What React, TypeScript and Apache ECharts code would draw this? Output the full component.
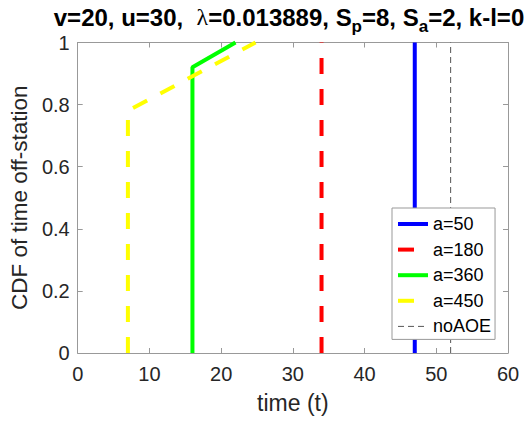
import React, { useEffect, useRef } from "react";
import * as echarts from "echarts";

const FONT = "'Liberation Sans', Arial, Helvetica, sans-serif";

const xTicks = { min: 0, max: 60, interval: 10 };
const yTicks = { min: 0, max: 1, interval: 0.2 };

const seriesNames = ["a=50", "a=180", "a=360", "a=450", "noAOE"];
const seriesColors = ["#0000ff", "#ff0000", "#00ff00", "#ffff00", "#555555"];

// [time, CDF] points for each series
const a50: [number, number][] = [[47, 0], [47, 1]];
const a180: [number, number][] = [[34, 0], [34, 1]];
const a360: [number, number][] = [[16, 0], [16, 0.92], [22, 1]];
const a450: [number, number][] = [[7, 0], [7, 0.78], [24.8, 1]];
const noAOE: [number, number][] = [[52, 0], [52, 1]];

const seriesData = [a50, a180, a360, a450, noAOE];
const seriesWidths = [4, 4, 4, 4, 1];
const seriesDash: (string | number[])[] = ["solid", [16, 15], "solid", [16, 15], [6, 4]];

const titleText =
  "{b|v=20, u=30,  }{l|λ}{b|=0.013889, S}{s|p}{b|=8, S}{s|a}{b|=2, k-l=0}";

export default function App() {
  const ref = useRef<HTMLDivElement>(null);

  useEffect(() => {
    if (!ref.current) return;
    const chart = echarts.init(ref.current, null, { renderer: "svg" });

    const axisLineStyle = { color: "#999999", width: 1 };
    const labelStyle = { color: "#262626", fontSize: 20, fontFamily: FONT };

    const baseX = {
      type: "value" as const,
      min: xTicks.min,
      max: xTicks.max,
      interval: xTicks.interval,
      splitLine: { show: false },
      axisLine: { show: true, onZero: false, lineStyle: axisLineStyle },
      axisTick: { show: true, inside: true, length: 5, lineStyle: axisLineStyle },
    };
    const baseY = {
      type: "value" as const,
      min: yTicks.min,
      max: yTicks.max,
      interval: yTicks.interval,
      splitLine: { show: false },
      axisLine: { show: true, onZero: false, lineStyle: axisLineStyle },
      axisTick: { show: true, inside: true, length: 5, lineStyle: axisLineStyle },
    };

    chart.setOption({
      animation: false,
      backgroundColor: "#ffffff",
      title: {
        text: titleText,
        left: 289,
        top: 5,
        textAlign: "center",
        padding: 0,
        textStyle: {
          rich: {
            b: {
              fontSize: 24,
              fontWeight: "bold",
              fontFamily: FONT,
              color: "#000000",
              lineHeight: 26,
              verticalAlign: "top",
            },
            l: {
              fontSize: 24,
              fontWeight: "normal",
              fontFamily: "'Liberation Serif', 'DejaVu Serif', serif",
              color: "#000000",
              lineHeight: 26,
              verticalAlign: "top",
            },
            s: {
              fontSize: 17,
              fontWeight: "bold",
              fontFamily: FONT,
              color: "#000000",
              lineHeight: 42,
              verticalAlign: "middle",
            },
          },
        },
      },
      grid: { left: 73, top: 42.5, right: 16, bottom: 68, containLabel: false },
      xAxis: [
        {
          ...baseX,
          position: "bottom",
          axisLabel: { ...labelStyle, margin: 11 },
          name: "time (t)",
          nameLocation: "middle",
          nameGap: 38,
          nameTextStyle: { color: "#262626", fontSize: 23, fontFamily: FONT },
        },
        { ...baseX, position: "top", axisLabel: { show: false } },
      ],
      yAxis: [
        {
          ...baseY,
          position: "left",
          axisLabel: { ...labelStyle, margin: 8 },
          name: "CDF of time off-station",
          nameLocation: "middle",
          nameGap: 44,
          nameTextStyle: { color: "#262626", fontSize: 22.5, fontFamily: FONT },
        },
        { ...baseY, position: "right", axisLabel: { show: false } },
      ],
      legend: {
        orient: "vertical",
        left: 392,
        top: 208,
        z: 20,
        padding: [7, 4, 4, 4],
        itemWidth: 30,
        itemHeight: 14,
        itemGap: 7.6,
        backgroundColor: "#ffffff",
        borderColor: "#999999",
        borderWidth: 1,
        borderRadius: 0,
        textStyle: { fontSize: 18, fontFamily: FONT, color: "#000000", lineHeight: 18 },
        data: seriesNames.map((n, i) => ({
          name: n,
          itemStyle: { opacity: 0 },
          lineStyle: { width: seriesWidths[i], type: seriesDash[i], color: seriesColors[i] },
        })),
      },
      series: seriesData.map((d, i) => ({
        name: seriesNames[i],
        type: "line",
        data: d,
        xAxisIndex: 0,
        yAxisIndex: 0,
        symbol: "none",
        showSymbol: false,
        clip: false,
        z: 2 + i * 0.1,
        lineStyle: { color: seriesColors[i], width: seriesWidths[i], type: seriesDash[i] },
        itemStyle: { color: seriesColors[i] },
      })),
    });

    return () => chart.dispose();
  }, []);

  return (
    <div
      ref={ref}
      style={{ position: "fixed", left: 0, top: 0, width: 524, height: 421 }}
    />
  );
}
